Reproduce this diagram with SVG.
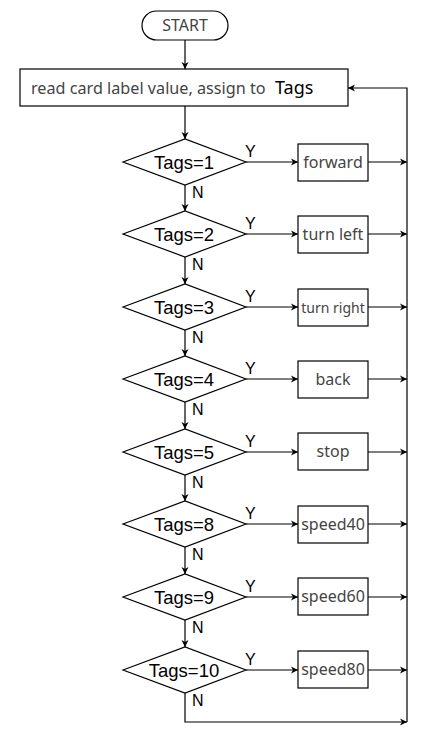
<svg xmlns="http://www.w3.org/2000/svg" width="447" height="736" viewBox="0 0 447 736">
<style>
.s{fill:#fff;stroke:#000;stroke-width:1.2}
.c{fill:none;stroke:#000;stroke-width:1.2}
.d{font-family:"Liberation Sans",Arial,sans-serif;font-size:18.5px;fill:#000;text-anchor:middle}
.b{font-family:"Noto Sans","Open Sans",sans-serif;font-size:16px;fill:#444;text-anchor:middle}
.l{font-family:"Liberation Sans",Arial,sans-serif;font-size:16px;fill:#000}
</style>
<defs>
<marker id="a" markerWidth="8" markerHeight="8" refX="7" refY="4" orient="auto" markerUnits="userSpaceOnUse">
<path d="M0,0.5 L7,4 L0,7.5 L2,4 Z" fill="#000"/>
</marker>
</defs>
<g id="start">
<rect class="s" x="142" y="11" width="86" height="29" rx="14.5"/>
<text x="185" y="31" class="b" style="font-size:16px">START</text>
</g>
<g id="read">
<rect class="s" x="20" y="69" width="328" height="37"/>
<text x="31" y="94" font-family="'Noto Sans','Open Sans',sans-serif" font-size="16.2" fill="#444">read card label value, assign to</text>
<text x="275" y="94" font-family="'Noto Sans','Open Sans',sans-serif" font-size="18" fill="#000">Tags</text>
</g>
<g id="d1"><polygon class="s" points="123,162 185,139 246,162 185,185"/><text x="184" y="168.5" class="d">Tags=1</text></g>
<g id="d2"><polygon class="s" points="123,234 185,211 246,234 185,257"/><text x="184" y="240.5" class="d">Tags=2</text></g>
<g id="d3"><polygon class="s" points="123,307 185,284 246,307 185,330"/><text x="184" y="313.5" class="d">Tags=3</text></g>
<g id="d4"><polygon class="s" points="123,379 185,356 246,379 185,402"/><text x="184" y="385.5" class="d">Tags=4</text></g>
<g id="d5"><polygon class="s" points="123,452 185,429 246,452 185,475"/><text x="184" y="458.5" class="d">Tags=5</text></g>
<g id="d8"><polygon class="s" points="123,524 185,501 246,524 185,547"/><text x="184" y="530.5" class="d">Tags=8</text></g>
<g id="d9"><polygon class="s" points="123,597 185,574 246,597 185,620"/><text x="184" y="603.5" class="d">Tags=9</text></g>
<g id="d10"><polygon class="s" points="123,670 185,647 246,670 185,693"/><text x="184" y="676.5" class="d">Tags=10</text></g>
<g id="b1"><rect class="s" x="298" y="144" width="70" height="37"/><text x="333" y="168" class="b">forward</text></g>
<g id="b2"><rect class="s" x="298" y="216" width="70" height="37"/><text x="333" y="240" class="b" style="font-size:16px">turn left</text></g>
<g id="b3"><rect class="s" x="298" y="289" width="70" height="37"/><text x="333" y="312.5" class="b" style="font-size:14px">turn right</text></g>
<g id="b4"><rect class="s" x="298" y="361" width="70" height="37"/><text x="333" y="385" class="b">back</text></g>
<g id="b5"><rect class="s" x="298" y="433" width="70" height="37"/><text x="333" y="457" class="b">stop</text></g>
<g id="b8"><rect class="s" x="298" y="506" width="70" height="37"/><text x="333" y="530" class="b">speed40</text></g>
<g id="b9"><rect class="s" x="298" y="578" width="70" height="37"/><text x="333" y="602" class="b">speed60</text></g>
<g id="b10"><rect class="s" x="298" y="651" width="70" height="37"/><text x="333" y="675" class="b">speed80</text></g>
<g id="connectors">
<path class="c" d="M185,40 V69" marker-end="url(#a)"/>
<path class="c" d="M185,106 V139" marker-end="url(#a)"/>
<path class="c" d="M185,185 V211" marker-end="url(#a)"/>
<path class="c" d="M185,257 V284" marker-end="url(#a)"/>
<path class="c" d="M185,330 V356" marker-end="url(#a)"/>
<path class="c" d="M185,402 V429" marker-end="url(#a)"/>
<path class="c" d="M185,475 V501" marker-end="url(#a)"/>
<path class="c" d="M185,547 V574" marker-end="url(#a)"/>
<path class="c" d="M185,620 V647" marker-end="url(#a)"/>
<path class="c" d="M185,693 V722 H407" marker-end="url(#a)"/>
<path class="c" d="M246,162 H298" marker-end="url(#a)"/>
<path class="c" d="M246,234 H298" marker-end="url(#a)"/>
<path class="c" d="M246,307 H298" marker-end="url(#a)"/>
<path class="c" d="M246,379 H298" marker-end="url(#a)"/>
<path class="c" d="M246,452 H298" marker-end="url(#a)"/>
<path class="c" d="M246,524 H298" marker-end="url(#a)"/>
<path class="c" d="M246,597 H298" marker-end="url(#a)"/>
<path class="c" d="M246,670 H298" marker-end="url(#a)"/>
<path class="c" d="M368,162 H407" marker-end="url(#a)"/>
<path class="c" d="M368,234 H407" marker-end="url(#a)"/>
<path class="c" d="M368,307 H407" marker-end="url(#a)"/>
<path class="c" d="M368,379 H407" marker-end="url(#a)"/>
<path class="c" d="M368,452 H407" marker-end="url(#a)"/>
<path class="c" d="M368,524 H407" marker-end="url(#a)"/>
<path class="c" d="M368,597 H407" marker-end="url(#a)"/>
<path class="c" d="M368,670 H407" marker-end="url(#a)"/>
<path class="c" d="M407,722 V88 H348" marker-end="url(#a)"/>
<text x="245" y="157" class="l">Y</text>
<text x="245" y="229" class="l">Y</text>
<text x="245" y="302" class="l">Y</text>
<text x="245" y="374" class="l">Y</text>
<text x="245" y="447" class="l">Y</text>
<text x="245" y="519" class="l">Y</text>
<text x="245" y="592" class="l">Y</text>
<text x="245" y="665" class="l">Y</text>
<text x="192" y="198" class="l">N</text>
<text x="192" y="270" class="l">N</text>
<text x="192" y="343" class="l">N</text>
<text x="192" y="415" class="l">N</text>
<text x="192" y="488" class="l">N</text>
<text x="192" y="560" class="l">N</text>
<text x="192" y="633" class="l">N</text>
<text x="192" y="706" class="l">N</text>
</g>
</svg>
